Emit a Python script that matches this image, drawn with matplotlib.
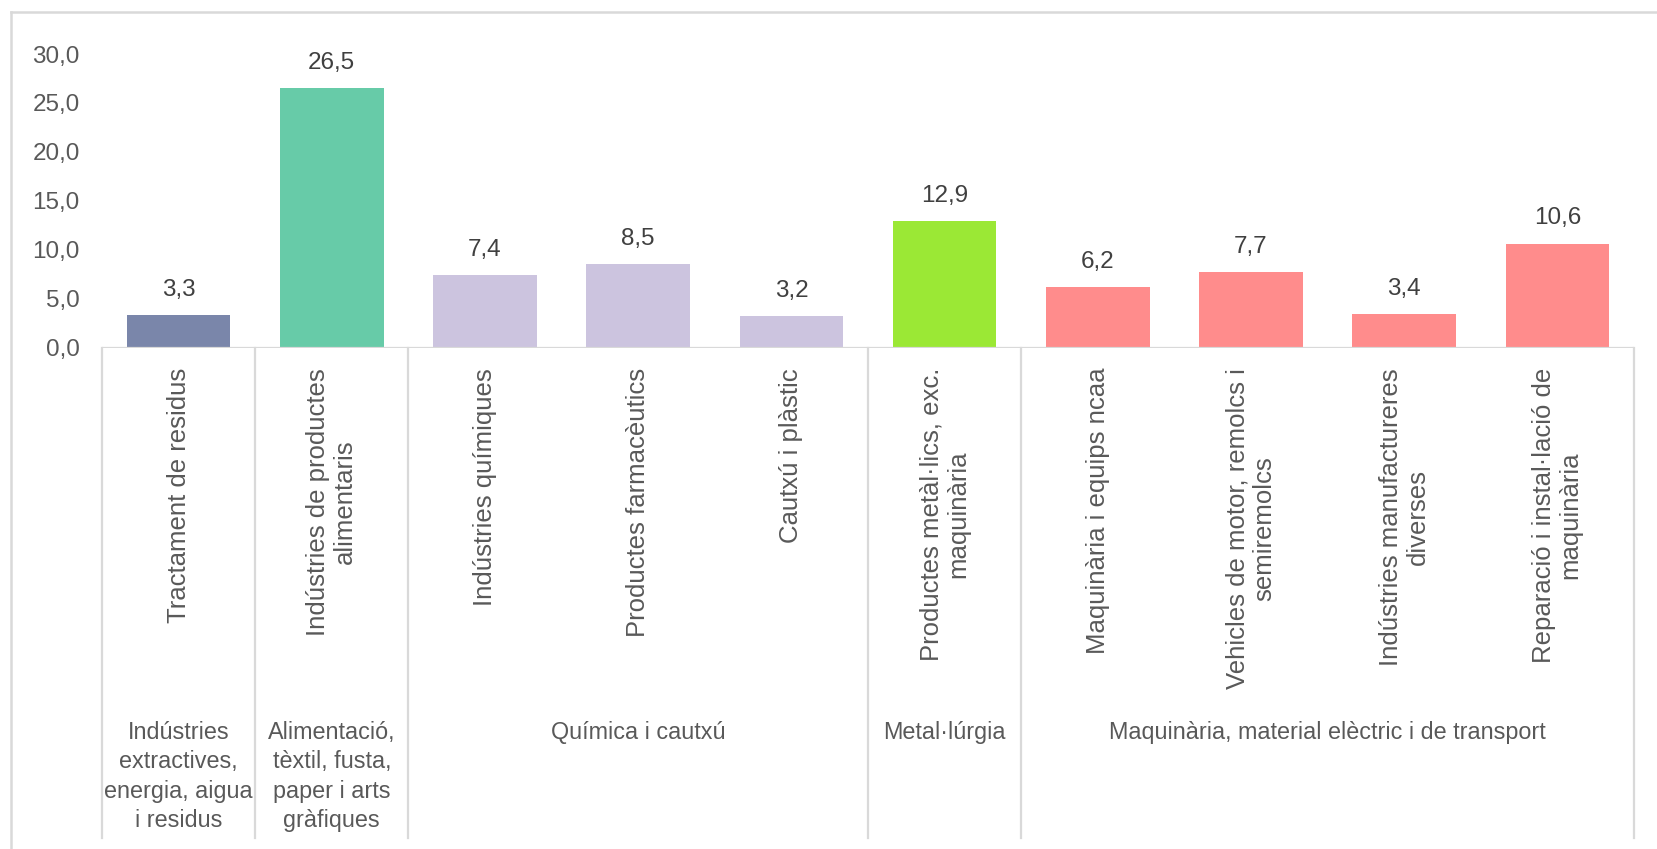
import matplotlib
matplotlib.use("Agg")
import matplotlib.pyplot as plt
from matplotlib.transforms import blended_transform_factory
from matplotlib.lines import Line2D

# data
sectors = ["Tractament de residus",
           "Indústries de productes\nalimentaris",
           "Indústries químiques",
           "Productes farmacèutics",
           "Cautxú i plàstic",
           "Productes metàl·lics, exc.\nmaquinària",
           "Maquinària i equips ncaa",
           "Vehicles de motor, remolcs i\nsemiremolcs",
           "Indústries manufactureres\ndiverses",
           "Reparació i instal·lació de\nmaquinària"]
values = [3.3, 26.5, 7.4, 8.5, 3.2, 12.9, 6.2, 7.7, 3.4, 10.6]
groups = ["Indústries\nextractives,\nenergia, aigua\ni residus",
          "Alimentació,\ntèxtil, fusta,\npaper i arts\ngràfiques",
          "Química i cautxú",
          "Metal·lúrgia",
          "Maquinària, material elèctric i de transport"]
group_sizes = [1, 1, 3, 1, 4]
group_colors = ["#7A86AA", "#67CBA8", "#CCC4DF", "#9BE835", "#FF8C8C"]
yticks = [0, 5, 10, 15, 20, 25, 30]

W, H = 1658, 849
fig = plt.figure(figsize=(W / 100, H / 100), dpi=100)
ax = fig.add_axes([102 / W, 1 - 347.7 / H, (1634 - 102) / W, (347.7 - 54) / H])

colors = []
for c, n in zip(group_colors, group_sizes):
    colors += [c] * n

x = list(range(len(values)))
ax.bar(x, values, width=0.675, color=colors, zorder=2)
ax.set_xlim(-0.5, len(values) - 0.5)
ax.set_ylim(0, 30)

for s in ax.spines.values():
    s.set_visible(False)
ax.set_xticks([])
ax.set_yticks(yticks)
ax.set_yticklabels([f"{t:.1f}".replace(".", ",") for t in yticks],
                   fontsize=17.5, color="#595959", family="Liberation Sans")
ax.tick_params(axis="y", length=0, pad=16)
ax.axhline(0, color="#D9D9D9", lw=1.6, zorder=3)

# value labels
for xi, v in zip(x, values):
    ax.annotate(f"{v:.1f}".replace(".", ","), (xi, v), xytext=(0, 14),
                textcoords="offset points", ha="center", va="baseline",
                fontsize=17.5, color="#404040", family="Liberation Sans")

trans = blended_transform_factory(ax.transData, fig.transFigure)

# rotated category labels
for xi, lab in zip(x, sectors):
    ax.text(xi, 1 - 368 / H, lab, transform=trans, rotation=90,
            ha="center", va="top", multialignment="center",
            fontsize=18.5, color="#595959", family="Liberation Sans",
            linespacing=1.15)

# group labels and separators
edges = [-0.5]
for n in group_sizes:
    edges.append(edges[-1] + n)
for i, g in enumerate(groups):
    c = (edges[i] + edges[i + 1]) / 2
    ax.text(c, 1 - 721 / H, g, transform=trans, ha="center", va="top",
            multialignment="center", fontsize=16.8, color="#595959",
            family="Liberation Sans", linespacing=1.36)
for e in edges:
    fig.add_artist(Line2D([e, e], [1 - 347.7 / H, 1 - 838 / H], transform=trans,
                          color="#D9D9D9", lw=1.6))

# outer chart border (left and top visible)
fig.add_artist(Line2D([11 / W, 11 / W], [1 - 12 / H, 0], transform=fig.transFigure,
                      color="#D9D9D9", lw=1.8))
fig.add_artist(Line2D([11 / W, 1], [1 - 12 / H, 1 - 12 / H], transform=fig.transFigure,
                      color="#D9D9D9", lw=1.8))

fig.savefig("out.png", dpi=100)
